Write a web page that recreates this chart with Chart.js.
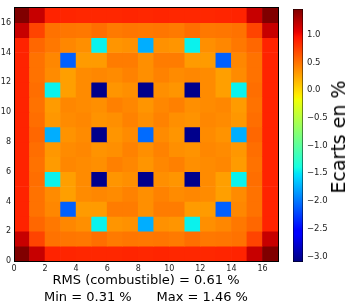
<!DOCTYPE html>
<html>
<head>
<meta charset="utf-8">
<script src="https://cdn.jsdelivr.net/npm/chart.js@4.4.0/dist/chart.umd.min.js"></script>
<style>
    html, body { margin: 0; padding: 0; background: #fff; }
    #wrap { position: relative; width: 347px; height: 306px; overflow: hidden; }
    #mapBox { position: absolute; left: 0; top: 0; width: 290px; height: 306px; }
    #barBox { position: absolute; left: 280px; top: 0; width: 67px; height: 306px; }
    #cbTitle {
        position: absolute; left: 338px; top: 137px;
        transform: translate(-50%, -50%) rotate(-90deg);
        font: 19px "DejaVu Sans", sans-serif; color: #000; white-space: nowrap;
    }
</style>
</head>
<body>
<div id="wrap">
    <div id="mapBox"><canvas id="mapChart"></canvas></div>
    <div id="barBox"><canvas id="barChart"></canvas></div>
    <div id="cbTitle">Ecarts en %</div>
</div>
<script>
// deviation (%) per cell, one array per row, x = 0..16
const row16 = [1.46, 1.18, 0.88, 0.87, 0.86, 0.86, 0.86, 0.87, 0.86, 0.87, 0.86, 0.86, 0.86, 0.87, 0.88, 1.18, 1.46];
const row15 = [1.18, 0.72, 0.50, 0.48, 0.47, 0.52, 0.46, 0.48, 0.47, 0.48, 0.46, 0.52, 0.47, 0.48, 0.50, 0.72, 1.18];
const row14 = [0.88, 0.55, 0.47, 0.40, 0.36, -1.45, 0.33, 0.35, -1.75, 0.35, 0.33, -1.45, 0.36, 0.40, 0.47, 0.55, 0.88];
const row13 = [0.88, 0.50, 0.40, -2.10, 0.30, 0.30, 0.45, 0.45, 0.36, 0.45, 0.45, 0.30, 0.30, -2.10, 0.40, 0.50, 0.88];
const row12 = [0.88, 0.50, 0.38, 0.28, 0.38, 0.40, 0.38, 0.42, 0.36, 0.42, 0.38, 0.40, 0.38, 0.28, 0.38, 0.50, 0.88];
const row11 = [0.88, 0.52, -1.45, 0.28, 0.38, -3.05, 0.33, 0.36, -3.05, 0.36, 0.33, -3.05, 0.38, 0.28, -1.45, 0.52, 0.88];
const row10 = [0.88, 0.50, 0.30, 0.40, 0.38, 0.36, 0.43, 0.40, 0.33, 0.40, 0.43, 0.36, 0.38, 0.40, 0.30, 0.50, 0.88];
const row9  = [0.88, 0.52, 0.32, 0.38, 0.40, 0.34, 0.36, 0.42, 0.36, 0.42, 0.36, 0.34, 0.40, 0.38, 0.32, 0.52, 0.88];
const row8  = [0.88, 0.55, -1.75, 0.34, 0.38, -3.05, 0.33, 0.38, -2.05, 0.38, 0.33, -3.05, 0.38, 0.34, -1.75, 0.55, 0.88];
const row7  = [0.88, 0.52, 0.32, 0.38, 0.40, 0.34, 0.36, 0.42, 0.36, 0.42, 0.36, 0.34, 0.40, 0.38, 0.32, 0.52, 0.88];
const row6  = [0.88, 0.50, 0.30, 0.40, 0.38, 0.36, 0.43, 0.40, 0.33, 0.40, 0.43, 0.36, 0.38, 0.40, 0.30, 0.50, 0.88];
const row5  = [0.88, 0.52, -1.45, 0.28, 0.38, -3.05, 0.33, 0.36, -3.05, 0.36, 0.33, -3.05, 0.38, 0.28, -1.45, 0.52, 0.88];
const row4  = [0.88, 0.50, 0.38, 0.28, 0.38, 0.40, 0.38, 0.42, 0.36, 0.42, 0.38, 0.40, 0.38, 0.28, 0.38, 0.50, 0.88];
const row3  = [0.88, 0.50, 0.40, -2.10, 0.30, 0.30, 0.45, 0.45, 0.36, 0.45, 0.45, 0.30, 0.30, -2.10, 0.40, 0.50, 0.88];
const row2  = [0.88, 0.55, 0.47, 0.40, 0.36, -1.45, 0.33, 0.35, -1.75, 0.35, 0.33, -1.45, 0.36, 0.40, 0.47, 0.55, 0.88];
const row1  = [1.18, 0.72, 0.50, 0.48, 0.47, 0.52, 0.46, 0.48, 0.47, 0.48, 0.46, 0.52, 0.47, 0.48, 0.50, 0.72, 1.18];
const row0  = [1.46, 1.18, 0.88, 0.87, 0.86, 0.86, 0.86, 0.87, 0.86, 0.87, 0.86, 0.86, 0.86, 0.87, 0.88, 1.18, 1.46];

const axisTicks = [0, 2, 4, 6, 8, 10, 12, 14, 16];
const barTicks = [1.0, 0.5, 0.0, -0.5, -1.0, -1.5, -2.0, -2.5, -3.0];
const vMin = -3.1;
const vMax = 1.46;
const rmsText = 'RMS (combustible) = 0.61 %';
const minMaxText = 'Min = 0.31 %      Max = 1.46 %';

const rows = [row0, row1, row2, row3, row4, row5, row6, row7, row8,
              row9, row10, row11, row12, row13, row14, row15, row16];

// matplotlib "jet"
const jetR = [[0, 0], [0.35, 0], [0.66, 1], [0.89, 1], [1, 0.5]];
const jetG = [[0, 0], [0.125, 0], [0.375, 1], [0.64, 1], [0.91, 0], [1, 0]];
const jetB = [[0, 0.5], [0.11, 1], [0.34, 1], [0.65, 0], [1, 0]];
const jetStops = [0, 0.11, 0.125, 0.34, 0.35, 0.375, 0.64, 0.65, 0.66, 0.89, 0.91, 1];

function seg(pts, t) {
    for (let i = 0; i < pts.length - 1; i++) {
        const [t0, v0] = pts[i], [t1, v1] = pts[i + 1];
        if (t <= t1) return v0 + (v1 - v0) * (t - t0) / (t1 - t0);
    }
    return pts[pts.length - 1][1];
}

function jet(t) {
    t = Math.min(1, Math.max(0, t));
    const c = [jetR, jetG, jetB].map(p => Math.round(seg(p, t) * 255));
    return `rgb(${c[0]},${c[1]},${c[2]})`;
}

const norm = v => (v - vMin) / (vMax - vMin);

const cells = [];
const cellColors = [];
rows.forEach((row, r) => {
    row.forEach((v, c) => {
        cells.push({ x: c + 0.5, y: [r, r + 1] });
        cellColors.push(jet(norm(v)));
    });
});

const tickFont = { family: 'DejaVu Sans', size: 8 };
const fixTicks = list => scale => { scale.ticks = list.map(v => ({ value: v })); };
const frame = { display: true, color: '#000', width: 1, z: 1 };
const noGrid = { display: false, drawTicks: false, offset: false };

new Chart(document.getElementById('mapChart'), {
    type: 'bar',
    data: {
        datasets: [{
            data: cells,
            backgroundColor: cellColors,
            borderWidth: 0,
            categoryPercentage: 1,
            barPercentage: 1,
        }],
    },
    options: {
        responsive: true,
        maintainAspectRatio: false,
        animation: false,
        events: [],
        layout: { padding: { left: 0, right: 12, top: 6, bottom: 0 } },
        plugins: { legend: { display: false }, tooltip: { enabled: false } },
        scales: {
            x: {
                type: 'linear',
                min: 0,
                max: 17,
                offset: false,
                grid: noGrid,
                border: frame,
                afterBuildTicks: fixTicks(axisTicks),
                afterFit: scale => { scale.height = 45; },
                ticks: { font: tickFont, color: '#222', padding: 3, maxRotation: 0, autoSkip: false },
                title: {
                    display: true,
                    text: [rmsText, minMaxText],
                    font: { family: 'DejaVu Sans', size: 13, lineHeight: 1.3 },
                    color: '#000',
                    padding: 0,
                },
            },
            x2: {
                type: 'linear',
                position: 'top',
                min: 0,
                max: 17,
                grid: noGrid,
                border: frame,
                ticks: { display: false },
                afterFit: scale => { scale.height = 0; },
            },
            y: {
                type: 'linear',
                min: 0,
                max: 17,
                grid: noGrid,
                border: frame,
                afterBuildTicks: fixTicks(axisTicks),
                afterFit: scale => { scale.width = 14; },
                ticks: { font: tickFont, color: '#222', padding: 3, autoSkip: false },
            },
            y2: {
                type: 'linear',
                position: 'right',
                min: 0,
                max: 17,
                grid: noGrid,
                border: frame,
                ticks: { display: false },
                afterFit: scale => { scale.width = 0; },
            },
        },
    },
});

new Chart(document.getElementById('barChart'), {
    type: 'bar',
    data: {
        labels: ['cb'],
        datasets: [{
            data: [[vMin, vMax]],
            backgroundColor: ctx => {
                const chart = ctx.chart;
                if (!chart.chartArea) return null;
                const y = chart.scales.y;
                const g = chart.ctx.createLinearGradient(0, y.getPixelForValue(vMin), 0, y.getPixelForValue(vMax));
                jetStops.forEach(t => g.addColorStop(t, jet(t)));
                return g;
            },
            borderColor: '#000',
            borderWidth: 0.8,
            borderSkipped: false,
            categoryPercentage: 1,
            barPercentage: 1,
        }],
    },
    options: {
        responsive: true,
        maintainAspectRatio: false,
        animation: false,
        events: [],
        layout: { padding: { left: 13, right: 0, top: 6, bottom: 44 } },
        plugins: { legend: { display: false }, tooltip: { enabled: false } },
        scales: {
            x: { display: false },
            y: {
                position: 'right',
                min: vMin,
                max: vMax,
                grid: { display: false, drawTicks: false },
                border: { display: false },
                afterBuildTicks: fixTicks(barTicks),
                afterFit: scale => { scale.width = 44; },
                ticks: {
                    font: { family: 'DejaVu Sans', size: 8.5 },
                    color: '#222',
                    padding: 4,
                    callback: v => v.toFixed(1).replace('-', '\u2212'),
                },
            },
        },
    },
});
</script>
</body>
</html>
